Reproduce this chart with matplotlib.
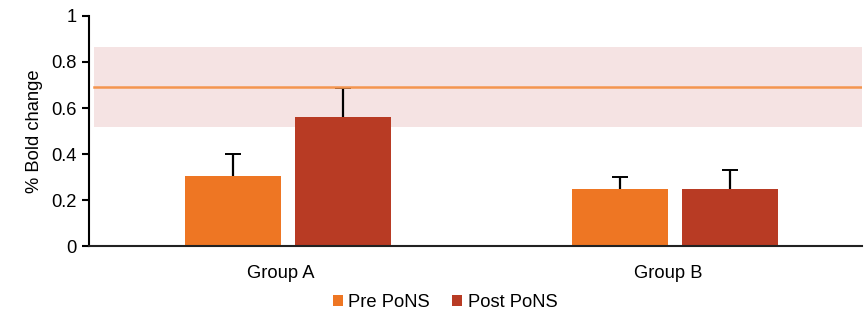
import matplotlib
matplotlib.use("Agg")
import matplotlib.pyplot as plt
import numpy as np

plt.rcParams['font.family'] = ['Liberation Sans', 'DejaVu Sans']

groups = ["Group A", "Group B"]
series = ["Pre PoNS", "Post PoNS"]
pre_vals = [0.306, 0.249]
pre_err = [0.094, 0.053]
post_vals = [0.560, 0.249]
post_err = [0.128, 0.082]
band_low, band_high = 0.517, 0.864
ref_line = 0.690
yticks = [0, 0.2, 0.4, 0.6, 0.8, 1]

c_pre = "#EE7623"
c_post = "#B83B24"
FS = 13.2

fig = plt.figure(figsize=(8.64, 3.12), dpi=100)
ax = fig.add_axes([0.103, 0.21, 0.8947, 0.7397])

x = np.arange(len(groups))
w = 0.248
off = 0.1425
cap = 0.02
ax.axhspan(band_low, band_high, xmin=0.0065, xmax=1, color="#F5E3E3", zorder=0, lw=0)
for xs, vals, errs, col, lab in [(x - off, pre_vals, pre_err, c_pre, series[0]),
                                 (x + off, post_vals, post_err, c_post, series[1])]:
    vals = np.array(vals)
    tops = vals + np.array(errs)
    ax.vlines(xs, vals, tops, color='black', lw=1.6, zorder=1)
    ax.hlines(tops, xs - cap, xs + cap, color='black', lw=1.4, zorder=1)
    ax.bar(xs, vals, w, color=col, label=lab, zorder=2)
ax.axhline(ref_line, xmin=0.0065, xmax=1, color="#F4954F", lw=1.8, zorder=4)

ax.set_xlim(-0.514, 1.483)
ax.set_ylim(0, 1)
ax.set_yticks(yticks)
ax.set_yticklabels([f"{t:g}" for t in yticks], fontsize=FS)
ax.set_xticks(x - 0.018)
ax.set_xticklabels(groups, fontsize=FS)
ax.tick_params(axis='x', length=0, pad=13)
ax.tick_params(axis='y', length=5, width=1.5, direction='out', pad=4)
for s in ['top', 'right']:
    ax.spines[s].set_visible(False)
ax.spines['left'].set_linewidth(1.5)
ax.spines['bottom'].set_linewidth(1.5)
ax.spines['bottom'].set_color('#222222')
ax.set_ylabel("% Bold change", fontsize=FS, labelpad=6)

leg = fig.legend(loc='lower center', bbox_to_anchor=(0.515, -0.05), ncol=2, frameon=False,
                 fontsize=FS, handlelength=0.55, handleheight=0.55, handletextpad=0.3,
                 columnspacing=1.2)

fig.savefig("out.png", dpi=100)
